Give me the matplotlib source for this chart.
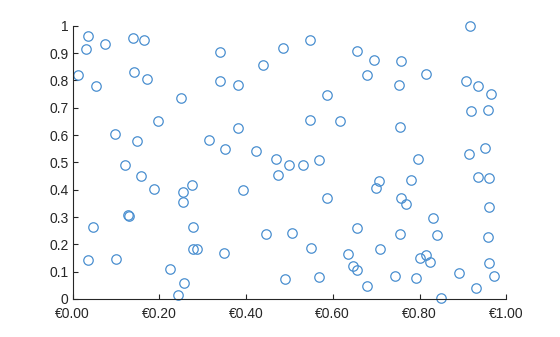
import matplotlib
matplotlib.use("Agg")
import matplotlib.pyplot as plt
import numpy as np

# scatter values
price = [0.036, 0.031, 0.075, 0.139, 0.164, 0.013, 0.055, 0.142, 0.172, 0.251,
         0.198, 0.098, 0.149, 0.315, 0.120, 0.341, 0.486, 0.548, 0.655, 0.440,
         0.339, 0.382, 0.587, 0.548, 0.617, 0.382, 0.351, 0.424, 0.470, 0.500,
         0.532, 0.569, 0.917, 0.696, 0.757, 0.679, 0.815, 0.753, 0.908, 0.935,
         0.965, 0.919, 0.958, 0.756, 0.951, 0.915, 0.797, 0.158, 0.188, 0.255,
         0.276, 0.255, 0.128, 0.131, 0.047, 0.278, 0.278, 0.288, 0.035, 0.099,
         0.225, 0.258, 0.244, 0.474, 0.393, 0.587, 0.655, 0.447, 0.507, 0.349,
         0.550, 0.636, 0.647, 0.655, 0.490, 0.568, 0.707, 0.700, 0.780, 0.935,
         0.961, 0.757, 0.768, 0.961, 0.832, 0.756, 0.841, 0.958, 0.709, 0.815,
         0.801, 0.824, 0.961, 0.891, 0.744, 0.792, 0.972, 0.679, 0.930, 0.849]
value = [0.963, 0.914, 0.932, 0.956, 0.947, 0.819, 0.778, 0.830, 0.804, 0.736,
         0.650, 0.603, 0.577, 0.581, 0.491, 0.903, 0.917, 0.947, 0.907, 0.855,
         0.797, 0.782, 0.746, 0.654, 0.650, 0.625, 0.548, 0.542, 0.512, 0.491,
         0.489, 0.508, 0.998, 0.875, 0.870, 0.819, 0.822, 0.782, 0.798, 0.779,
         0.749, 0.687, 0.690, 0.628, 0.551, 0.530, 0.514, 0.449, 0.401, 0.392,
         0.416, 0.354, 0.307, 0.305, 0.262, 0.262, 0.182, 0.182, 0.142, 0.145,
         0.109, 0.057, 0.014, 0.453, 0.398, 0.369, 0.259, 0.237, 0.240, 0.167,
         0.186, 0.164, 0.121, 0.105, 0.072, 0.079, 0.431, 0.405, 0.435, 0.445,
         0.442, 0.369, 0.349, 0.336, 0.296, 0.238, 0.234, 0.227, 0.182, 0.161,
         0.149, 0.135, 0.132, 0.095, 0.084, 0.076, 0.084, 0.048, 0.039, 0.003]

xticks = np.arange(0, 1.01, 0.2)
yticks = np.arange(0, 1.01, 0.1)

plt.rcParams['font.family'] = ['Liberation Sans', 'DejaVu Sans']
grey = '#262626'

fig = plt.figure(figsize=(5.6, 3.37), dpi=100)
ax = fig.add_axes([0.1296, 0.1128, 0.7744, 0.8109])
ax.plot(price, value, 'o', mfc='none', mec='#4a8fd0', mew=0.9, ms=6.8,
        clip_on=False)

ax.set_xlim(0, 1)
ax.set_ylim(0, 1)
ax.set_xticks(xticks)
ax.set_xticklabels(['€%.2f' % t for t in xticks])
ax.set_yticks(yticks)
ax.set_yticklabels(['%g' % round(t, 1) for t in yticks])

for s in ['top', 'right']:
    ax.spines[s].set_visible(False)
for s in ['left', 'bottom']:
    ax.spines[s].set_color(grey)
    ax.spines[s].set_linewidth(0.8)
ax.tick_params(direction='in', length=3.5, width=0.8, colors=grey,
               labelsize=10)
ax.tick_params(axis='x', pad=6)
ax.tick_params(axis='y', pad=3)

fig.savefig('out.png', dpi=100)
